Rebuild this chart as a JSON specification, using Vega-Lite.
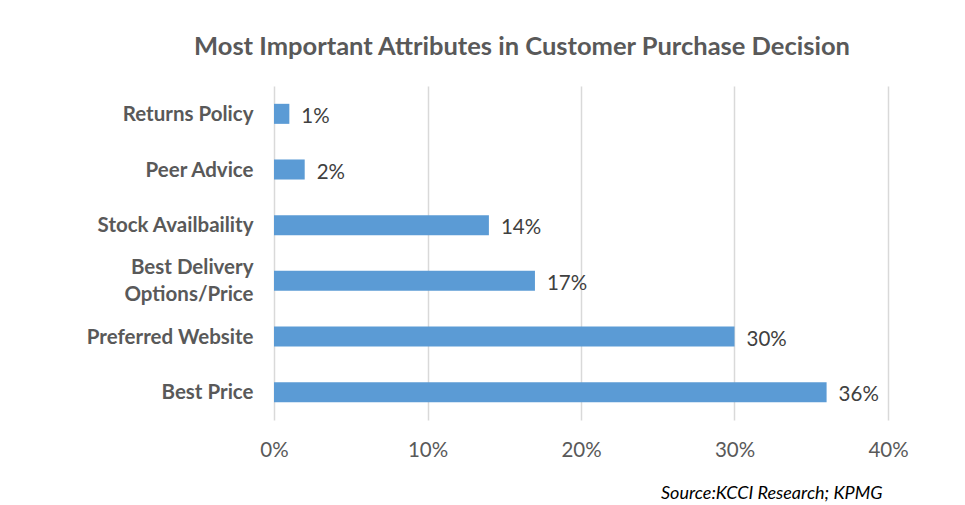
{
  "$schema": "https://vega.github.io/schema/vega-lite/v6.json",
  "autosize": {"type": "none"},
  "width": 614,
  "height": 334,
  "padding": {"left": 274, "top": 86, "right": 77, "bottom": 85},
  "background": "white",
  "title": {
    "text": "Most Important Attributes in Customer Purchase Decision",
    "font": "Lato",
    "fontSize": 25.5,
    "fontWeight": "bold",
    "color": "#595959",
    "anchor": "middle",
    "dx": -59,
    "offset": 26
  },
  "data": {
    "values": [
      {"attribute": "Returns Policy", "share": 0.01, "label": "1%"},
      {"attribute": "Peer Advice", "share": 0.02, "label": "2%"},
      {"attribute": "Stock Availbaility", "share": 0.14, "label": "14%"},
      {"attribute": "Best Delivery Options/Price", "share": 0.17, "label": "17%"},
      {"attribute": "Preferred Website", "share": 0.30, "label": "30%"},
      {"attribute": "Best Price", "share": 0.36, "label": "36%"}
    ]
  },
  "encoding": {
    "y": {
      "field": "attribute",
      "type": "nominal",
      "sort": null,
      "scale": {"paddingInner": 0.64, "paddingOuter": 0.32},
      "axis": {
        "title": null,
        "domain": false,
        "ticks": false,
        "labelFont": "Lato",
        "labelFontSize": 20.5,
        "labelFontWeight": "bold",
        "labelColor": "#595959",
        "labelPadding": 21,
        "labelLimit": 300,
        "labelLineHeight": 27,
        "labelOffset": {"condition": {"test": "datum.value == 'Best Delivery Options/Price'", "value": -13}, "value": 1},
        "labelExpr": "datum.label == 'Best Delivery Options/Price' ? ['Best Delivery', 'Options/Price'] : datum.label"
      }
    },
    "x": {
      "field": "share",
      "type": "quantitative",
      "scale": {"domain": [0, 0.4], "nice": false},
      "axis": {
        "format": ".0%",
        "values": [0, 0.1, 0.2, 0.3, 0.4],
        "domain": false,
        "ticks": false,
        "grid": true,
        "gridColor": "#d9d9d9",
        "gridWidth": 1.5,
        "labelFlush": false,
        "labelFont": "Lato",
        "labelFontSize": 20.5,
        "labelColor": "#595959",
        "labelPadding": 20,
        "title": "Source:KCCI Research; KPMG",
        "titleFont": "Lato",
        "titleFontSize": 18,
        "titleFontWeight": "normal",
        "titleFontStyle": "italic",
        "titleColor": "#000000",
        "titleAnchor": "end",
        "titlePadding": 24,
        "titleX": 608
      }
    }
  },
  "layer": [
    {"mark": {"type": "bar", "color": "#5B9BD5"}},
    {
      "mark": {
        "type": "text",
        "align": "left",
        "baseline": "middle",
        "dx": 12,
        "dy": 3,
        "font": "Lato",
        "fontSize": 20.5,
        "color": "#404040"
      },
      "encoding": {"text": {"field": "label"}}
    }
  ],
  "config": {"view": {"stroke": null}}
}
